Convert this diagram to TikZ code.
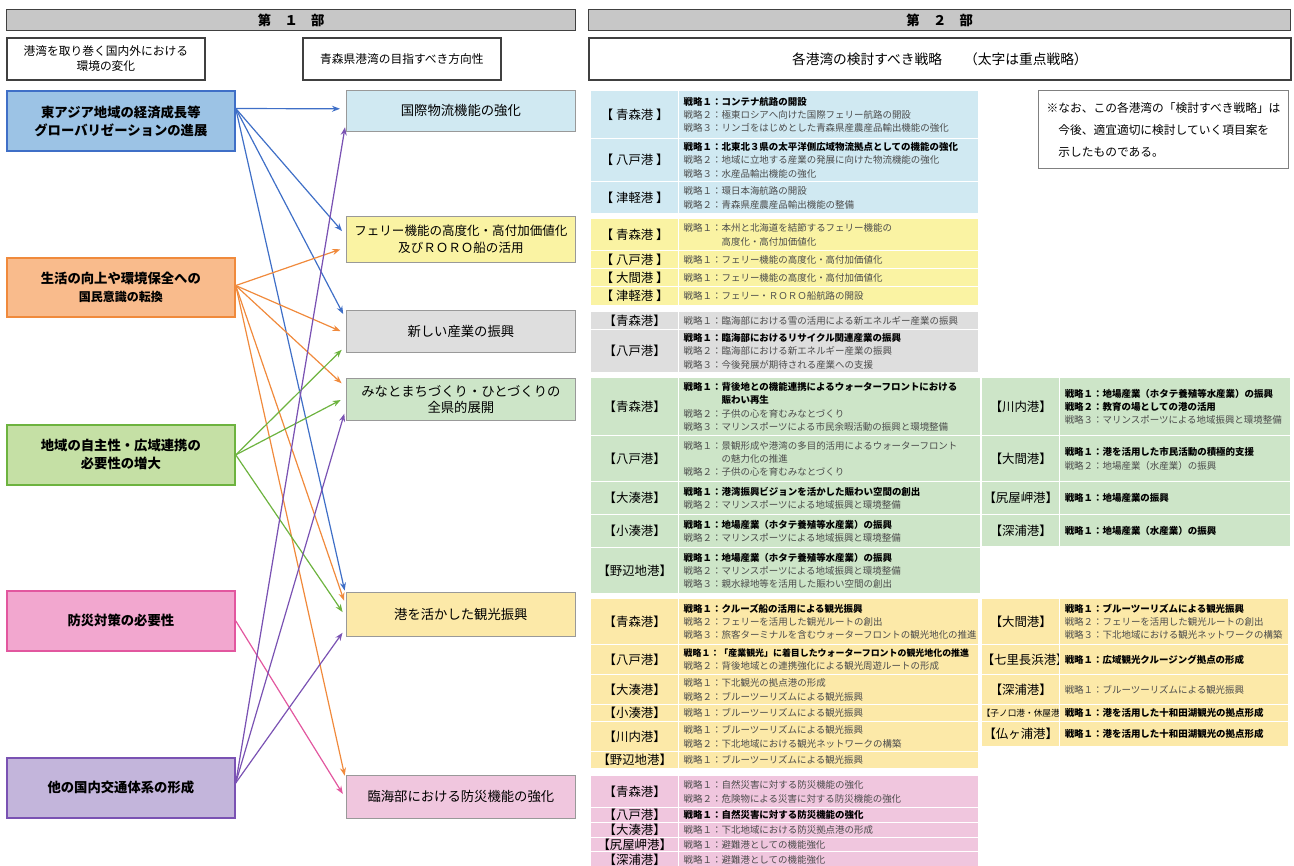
\documentclass[tikz,border=0pt]{standalone}
\usepackage{fontspec}
\setmainfont{Noto Sans CJK JP}
\usetikzlibrary{arrows.meta,calc}
\definecolor{tblue}{HTML}{D0E9F2}
\definecolor{tyel}{HTML}{FAF3A3}
\definecolor{tgray}{HTML}{DEDEDE}
\definecolor{tgreen}{HTML}{CDE5C8}
\definecolor{tyel2}{HTML}{FCE9A8}
\definecolor{tpink}{HTML}{F0C6DE}
\definecolor{eblue}{HTML}{9CC3E5}\definecolor{dblue}{HTML}{3F6FC7}
\definecolor{eorange}{HTML}{F9BB8C}\definecolor{dorange}{HTML}{F08A3C}
\definecolor{egreen}{HTML}{C5E0A5}\definecolor{dgreen}{HTML}{6DB33F}
\definecolor{epink}{HTML}{F2A7CF}\definecolor{dpink}{HTML}{E2579F}
\definecolor{epurple}{HTML}{C3B5DB}\definecolor{dpurple}{HTML}{7A52B3}
\newcommand\bstr[1]{{\bfseries\color{black}#1}}
\newcommand\indt{\phantom{戦略１：}}
\newcommand\bxn[7]{%
  \pgfmathsetmacro\bw{(#5-#3)*0.75}\pgfmathsetmacro\bh{(#6-#4)*0.75}%
  \node[#2,minimum width=\bw pt,minimum height=\bh pt,anchor=north west] (#1) at (#3,#4) {#7};}
\newcommand\portrow[9]{%
  \pgfmathsetmacro\lw{(#6-#5)*0.75}\pgfmathsetmacro\rw{(#7-#6-10)*0.75}\pgfmathsetmacro\rh{(#4-#3)*0.75}%
  \node[lcell,fill=#2,minimum width=\lw pt,minimum height=\rh pt,anchor=north west] (#1l) at (#5,#3) {#8};
  \node[tcell,fill=#2,text width=\rw pt,minimum height=\rh pt,anchor=north west] (#1t) at (#6,#3) {#9};}
\newcommand\conn[5]{%
  \draw[arr,#1] ($(#2.north east)!#3!(#2.south east)$) -- ($(#4.north west)!#5!(#4.south west)$);}
\tikzset{
  hdr/.style={fill=black!22,draw=black!75,line width=1pt,inner sep=0pt,font=\fontsize{10}{12}\selectfont\bfseries},
  sub/.style={fill=white,draw=black!75,line width=1.3pt,inner sep=0pt,align=center,font=\fontsize{8.8}{11.5}\selectfont},
  env/.style={line width=1.3pt,inner sep=0pt,align=center,font=\fontsize{10}{13.5}\selectfont\bfseries},
  dir/.style={draw=black!40,line width=0.6pt,inner sep=0pt,align=center,font=\fontsize{10}{12.5}\selectfont},
  lcell/.style={draw=white,line width=1.1pt,inner sep=0pt,align=center,font=\fontsize{9.3}{11}\selectfont},
  tcell/.style={draw=white,line width=1.1pt,inner xsep=3.75pt,inner ysep=0pt,align=left,text=black!70,font=\fontsize{7.1}{10}\selectfont},
  arr/.style={line width=0.9pt,shorten >=4.5pt,-{Stealth[length=6pt,width=4.5pt]}},
}
\begin{document}
\begin{tikzpicture}[x=0.75pt,y=-0.75pt]
\useasboundingbox (0,0) rectangle (1294,866);
% headers
\bxn{h1}{hdr}{6}{9}{575}{30}{第　１　部}
\bxn{h2}{hdr}{588}{9}{1290}{30}{第　２　部}
\bxn{s1}{sub}{6}{37}{204}{79}{港湾を取り巻く国内外における\\環境の変化}
\bxn{s2}{sub}{302}{37}{500}{79}{青森県港湾の目指すべき方向性}
\bxn{s3}{sub,font=\fontsize{10.3}{12}\selectfont}{588}{37}{1290}{79}{各港湾の検討すべき戦略\hspace{1.6em}（太字は重点戦略）}
% environment boxes
\bxn{e1}{env,fill=eblue,draw=dblue}{6}{90}{234}{150}{東アジア地域の経済成長等\\グローバリゼーションの進展}
\bxn{e2}{env,fill=eorange,draw=dorange}{6}{257}{234}{316}{生活の向上や環境保全への\\{\fontsize{9}{12}\selectfont 国民意識の転換}}
\bxn{e3}{env,fill=egreen,draw=dgreen}{6}{424}{234}{484}{地域の自主性・広域連携の\\必要性の増大}
\bxn{e4}{env,fill=epink,draw=dpink}{6}{590}{234}{650}{防災対策の必要性}
\bxn{e5}{env,fill=epurple,draw=dpurple}{6}{757}{234}{817}{他の国内交通体系の形成}
% direction boxes
\bxn{m1}{dir,fill=tblue}{346}{90}{575}{131}{国際物流機能の強化}
\bxn{m2}{dir,fill=tyel,font=\fontsize{9.4}{12.5}\selectfont}{346}{216}{575}{262}{フェリー機能の高度化・高付加価値化\\及びＲＯＲＯ船の活用}
\bxn{m3}{dir,fill=tgray}{346}{310}{575}{352}{新しい産業の振興}
\bxn{m4}{dir,fill=tgreen}{346}{378}{575}{420}{みなとまちづくり・ひとづくりの\\全県的展開}
\bxn{m5}{dir,fill=tyel2}{346}{592}{575}{636}{港を活かした観光振興}
\bxn{m6}{dir,fill=tpink}{346}{775}{575}{818}{臨海部における防災機能の強化}
% connectors
\conn{dblue}{e1}{0.3}{m1}{0.45}
\conn{dblue}{e1}{0.3}{m2}{0.42}
\conn{dblue}{e1}{0.3}{m3}{0.22}
\conn{dblue}{e1}{0.3}{m5}{0.1}
\conn{dorange}{e2}{0.47}{m2}{0.67}
\conn{dorange}{e2}{0.47}{m3}{0.55}
\conn{dorange}{e2}{0.47}{m4}{0.22}
\conn{dorange}{e2}{0.47}{m5}{0.32}
\conn{dorange}{e2}{0.47}{m6}{0.15}
\conn{dgreen}{e3}{0.5}{m3}{0.83}
\conn{dgreen}{e3}{0.5}{m4}{0.45}
\conn{dgreen}{e3}{0.5}{m5}{0.56}
\conn{dpink}{e4}{0.5}{m6}{0.55}
\conn{dpurple}{e5}{0.42}{m1}{0.75}
\conn{dpurple}{e5}{0.42}{m4}{0.7}
\conn{dpurple}{e5}{0.42}{m5}{0.8}
% blue section
\portrow{ba}{tblue}{90}{138}{590}{678}{978}{【 青森港 】}{\bstr{戦略１：コンテナ航路の開設}\\戦略２：極東ロシアへ向けた国際フェリー航路の開設\\戦略３：リンゴをはじめとした青森県産農産品輸出機能の強化}
\portrow{bb}{tblue}{138}{181}{590}{678}{978}{【 八戸港 】}{\bstr{戦略１：北東北３県の太平洋側広域物流拠点としての機能の強化}\\戦略２：地域に立地する産業の発展に向けた物流機能の強化\\戦略３：水産品輸出機能の強化}
\portrow{bc}{tblue}{181}{213}{590}{678}{978}{【 津軽港 】}{戦略１：環日本海航路の開設\\戦略２：青森県産農産品輸出機能の整備}
% ferry section
\portrow{fa}{tyel}{218}{250}{590}{678}{978}{【 青森港 】}{戦略１：本州と北海道を結節するフェリー機能の\\\indt 高度化・高付加価値化}
\portrow{fb}{tyel}{250}{268}{590}{678}{978}{【 八戸港 】}{戦略１：フェリー機能の高度化・高付加価値化}
\portrow{fc}{tyel}{268}{286}{590}{678}{978}{【 大間港 】}{戦略１：フェリー機能の高度化・高付加価値化}
\portrow{fd}{tyel}{286}{305}{590}{678}{978}{【 津軽港 】}{戦略１：フェリー・ＲＯＲＯ船航路の開設}
% gray section
\portrow{ga}{tgray}{311}{329}{590}{678}{978}{【青森港】}{戦略１：臨海部における雪の活用による新エネルギー産業の振興}
\portrow{gb}{tgray}{329}{372}{590}{678}{978}{【八戸港】}{\bstr{戦略１：臨海部におけるリサイクル関連産業の振興}\\戦略２：臨海部における新エネルギー産業の振興\\戦略３：今後発展が期待される産業への支援}
% green section left
\portrow{na}{tgreen}{377}{435}{590}{678}{980}{【青森港】}{\bstr{戦略１：背後地との機能連携によるウォーターフロントにおける}\\\bstr{\indt 賑わい再生}\\戦略２：子供の心を育むみなとづくり\\戦略３：マリンスポーツによる市民余暇活動の振興と環境整備}
\portrow{nb}{tgreen}{435}{481}{590}{678}{980}{【八戸港】}{戦略１：景観形成や港湾の多目的活用によるウォーターフロント\\\indt の魅力化の推進\\戦略２：子供の心を育むみなとづくり}
\portrow{nc}{tgreen}{481}{514}{590}{678}{980}{【大湊港】}{\bstr{戦略１：港湾振興ビジョンを活かした賑わい空間の創出}\\戦略２：マリンスポーツによる地域振興と環境整備}
\portrow{nd}{tgreen}{514}{547}{590}{678}{980}{【小湊港】}{\bstr{戦略１：地場産業（ホタテ養殖等水産業）の振興}\\戦略２：マリンスポーツによる地域振興と環境整備}
\portrow{ne}{tgreen}{547}{593}{590}{678}{980}{【野辺地港】}{\bstr{戦略１：地場産業（ホタテ養殖等水産業）の振興}\\戦略２：マリンスポーツによる地域振興と環境整備\\戦略３：親水緑地等を活用した賑わい空間の創出}
% green section right
\portrow{nf}{tgreen}{377}{435}{981}{1059}{1290}{【川内港】}{\bstr{戦略１：地場産業（ホタテ養殖等水産業）の振興}\\\bstr{戦略２：教育の場としての港の活用}\\戦略３：マリンスポーツによる地域振興と環境整備}
\portrow{ng}{tgreen}{435}{481}{981}{1059}{1290}{【大間港】}{\bstr{戦略１：港を活用した市民活動の積極的支援}\\戦略２：地場産業（水産業）の振興}
\portrow{nh}{tgreen}{481}{514}{981}{1059}{1290}{【尻屋岬港】}{\bstr{戦略１：地場産業の振興}}
\portrow{ni}{tgreen}{514}{546}{981}{1059}{1290}{【深浦港】}{\bstr{戦略１：地場産業（水産業）の振興}}
% tourism section left
\portrow{ka}{tyel2}{598}{644}{590}{678}{978}{【青森港】}{\bstr{戦略１：クルーズ船の活用による観光振興}\\戦略２：フェリーを活用した観光ルートの創出\\戦略３：旅客ターミナルを含むウォーターフロントの観光地化の推進}
\portrow{kb}{tyel2}{644}{674}{590}{678}{978}{【八戸港】}{\bstr{\fontsize{6.7}{10}\selectfont 戦略１：「産業観光」に着目したウォーターフロントの観光地化の推進}\\戦略２：背後地域との連携強化による観光周遊ルートの形成}
\portrow{kc}{tyel2}{674}{704}{590}{678}{978}{【大湊港】}{戦略１：下北観光の拠点港の形成\\戦略２：ブルーツーリズムによる観光振興}
\portrow{kd}{tyel2}{704}{721}{590}{678}{978}{【小湊港】}{戦略１：ブルーツーリズムによる観光振興}
\portrow{ke}{tyel2}{721}{751}{590}{678}{978}{【川内港】}{戦略１：ブルーツーリズムによる観光振興\\戦略２：下北地域における観光ネットワークの構築}
\portrow{kf}{tyel2}{751}{768}{590}{678}{978}{【野辺地港】}{戦略１：ブルーツーリズムによる観光振興}
% tourism section right
\portrow{kg}{tyel2}{598}{644}{981}{1059}{1288}{【大間港】}{\bstr{戦略１：ブルーツーリズムによる観光振興}\\戦略２：フェリーを活用した観光ルートの創出\\戦略３：下北地域における観光ネットワークの構築}
\portrow{kh}{tyel2}{644}{674}{981}{1059}{1288}{【七里長浜港】}{\bstr{戦略１：広域観光クルージング拠点の形成}}
\portrow{ki}{tyel2}{674}{704}{981}{1059}{1288}{【深浦港】}{戦略１：ブルーツーリズムによる観光振興}
\portrow{kj}{tyel2}{704}{721}{981}{1059}{1288}{\fontsize{6.5}{8}\selectfont【子ノ口港・休屋港】}{\bstr{戦略１：港を活用した十和田湖観光の拠点形成}}
\portrow{kk}{tyel2}{721}{746}{981}{1059}{1288}{【仏ヶ浦港】}{\bstr{戦略１：港を活用した十和田湖観光の拠点形成}}
% pink section
\portrow{pa}{tpink}{775}{807}{590}{678}{978}{【青森港】}{戦略１：自然災害に対する防災機能の強化\\戦略２：危険物による災害に対する防災機能の強化}
\portrow{pb}{tpink}{807}{822}{590}{678}{978}{【八戸港】}{\bstr{戦略１：自然災害に対する防災機能の強化}}
\portrow{pc}{tpink}{822}{837}{590}{678}{978}{【大湊港】}{戦略１：下北地域における防災拠点港の形成}
\portrow{pd}{tpink}{837}{851}{590}{678}{978}{【尻屋岬港】}{戦略１：避難港としての機能強化}
\portrow{pe}{tpink}{851}{868}{590}{678}{978}{【深浦港】}{戦略１：避難港としての機能強化}
% note
\bxn{note}{draw=black!50,line width=0.8pt,fill=white,inner sep=0pt,align=left,font=\fontsize{8.8}{16.5}\selectfont}{1038}{90}{1288}{168}{※なお、この各港湾の「検討すべき戦略」は\\\phantom{※}今後、適宜適切に検討していく項目案を\\\phantom{※}示したものである。}
\end{tikzpicture}
\end{document}
